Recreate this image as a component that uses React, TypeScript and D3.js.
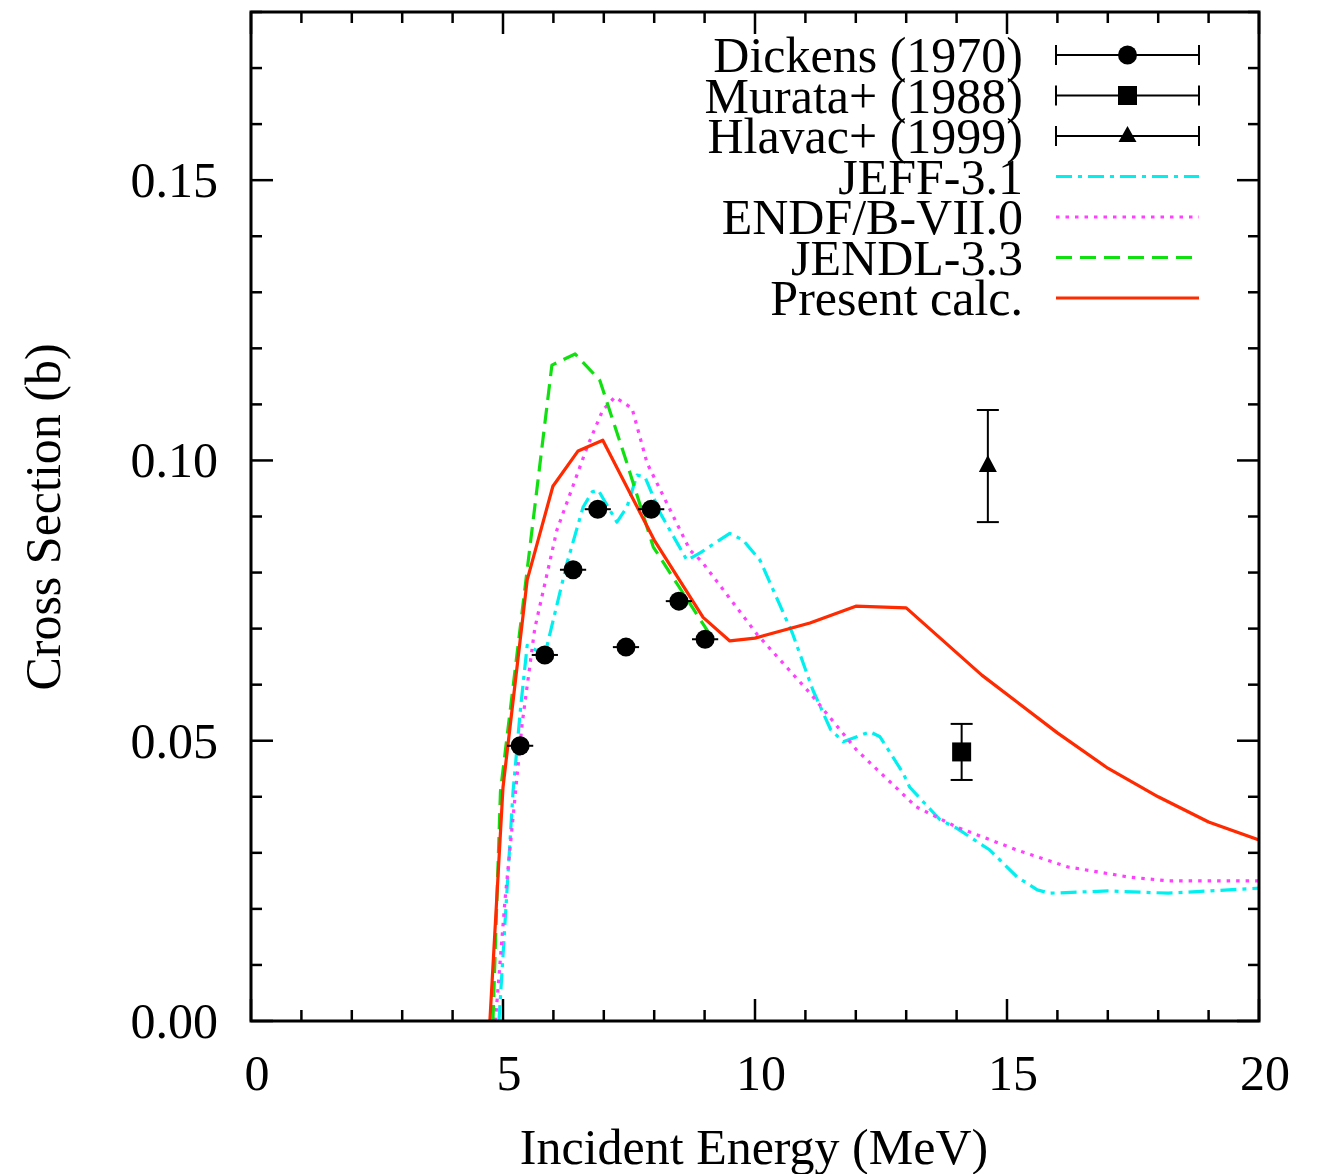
import React from "react";
import * as d3 from "d3";

// ---- data ----
const xTicksMajor = [0, 5, 10, 15, 20];
const yTicksMajor = [0, 0.05, 0.1, 0.15];
const yTickLabels = ["0.00", "0.05", "0.10", "0.15"];

const dickensE = [5.34, 5.83, 6.39, 6.88, 7.44, 7.94, 8.49, 9.01];
const dickensV = [0.0491, 0.0653, 0.0805, 0.0913, 0.0667, 0.0913, 0.0749, 0.0681];
const dickensXErr = [0.26, 0.26, 0.26, 0.26, 0.26, 0.26, 0.26, 0.26];

const murataE = [14.1];
const murataV = [0.048];
const murataErr = [0.005];

const hlavacE = [14.62];
const hlavacV = [0.099];
const hlavacErr = [0.01];

const jeffE = [4.92, 5.05, 5.2, 5.35, 5.48, 5.83, 6.27, 6.59, 6.77, 6.89, 7.26, 7.46, 7.66, 7.82, 8.12, 8.65, 8.91, 9.5, 9.76, 10.1, 10.75, 11.15, 11.5, 11.75, 12.28, 12.48, 12.94, 13.07, 13.67, 14.0, 14.66, 15.2, 15.6, 15.85, 17.0, 18.2, 20.0];
const jeffV = [0, 0.019, 0.041, 0.056, 0.067, 0.0653, 0.0817, 0.0917, 0.0944, 0.0947, 0.089, 0.0917, 0.0974, 0.097, 0.0906, 0.0822, 0.0835, 0.087, 0.0858, 0.0822, 0.069, 0.059, 0.052, 0.0498, 0.0516, 0.0507, 0.0442, 0.0417, 0.0359, 0.0344, 0.0305, 0.0257, 0.0234, 0.0228, 0.0232, 0.0228, 0.0237];

const endfE = [4.85, 5.04, 5.38, 5.63, 6.07, 6.67, 6.98, 7.22, 7.56, 7.86, 8.71, 8.95, 10.04, 11.09, 12.02, 13.2, 14.0, 15.2, 16.2, 17.4, 18.2, 20.0];
const endfV = [0, 0.0216, 0.053, 0.07, 0.0876, 0.1024, 0.109, 0.1113, 0.1093, 0.0995, 0.084, 0.0819, 0.069, 0.0585, 0.0483, 0.0382, 0.0346, 0.0305, 0.0275, 0.0257, 0.025, 0.025];

const jendlE = [4.8, 4.95, 5.5, 5.97, 6.43, 6.92, 7.46, 7.98, 9.1];
const jendlV = [0, 0.041, 0.082, 0.117, 0.119, 0.1143, 0.0995, 0.0846, 0.069];

const presentE = [4.74, 5.0, 5.48, 5.99, 6.49, 6.98, 8.0, 8.97, 9.5, 10.0, 11.09, 12.0, 13.0, 14.5, 16.0, 17.0, 18.0, 19.0, 20.0];
const presentV = [0, 0.0417, 0.0787, 0.0954, 0.1017, 0.1036, 0.0858, 0.072, 0.0678, 0.0683, 0.071, 0.074, 0.0737, 0.0617, 0.0514, 0.0451, 0.04, 0.0355, 0.0323];

const legendLabels = ["Dickens (1970)", "Murata+ (1988)", "Hlavac+ (1999)", "JEFF-3.1", "ENDF/B-VII.0", "JENDL-3.3", "Present calc."];

const FONT = "'Liberation Serif', 'Times New Roman', serif";

export default function App() {
  const L = 251, R = 1259, T = 12, B = 1021;
  const x = d3.scaleLinear().domain([0, 20]).range([L, R]);
  const y = d3.scaleLinear().domain([0, 0.18]).range([B, T]);
  const line = d3.line<[number, number]>().x(d => x(d[0])).y(d => y(d[1]));
  const mk = (E: number[], V: number[]) => line(E.map((e, i) => [e, V[i]] as [number, number])) || "";

  const xMinor = d3.range(0, 21, 1);
  const yMinor = d3.range(0, 0.1801, 0.01);

  const curves = [
    { d: mk(jeffE, jeffV), color: "#00f0f0", dash: "16,6,4,6" },
    { d: mk(endfE, endfV), color: "#ff40ff", dash: "3.5,6" },
    { d: mk(jendlE, jendlV), color: "#10e010", dash: "16,8" },
    { d: mk(presentE, presentV), color: "#ff2a00", dash: "" },
  ];

  const legY0 = 55, legDy = 40.5;
  const legX1 = 1056, legX2 = 1199, legXT = 1023;
  const FS = 50;

  return (
    <div style={{ position: "absolute", left: 0, top: 0 }}>
      <svg width={1320} height={1174} style={{ display: "block", background: "#fff" }}>
        <defs>
          <clipPath id="plot">
            <rect x={L} y={T} width={R - L} height={B - T} />
          </clipPath>
        </defs>
        {/* ticks */}
        <g stroke="#000" strokeWidth={2.5}>
          {xMinor.map(v => {
            const major = v % 5 === 0;
            const len = major ? 22 : 11;
            return (
              <g key={"xt" + v}>
                <line x1={x(v)} x2={x(v)} y1={B} y2={B - len} />
                <line x1={x(v)} x2={x(v)} y1={T} y2={T + len} />
              </g>
            );
          })}
          {yMinor.map((v, i) => {
            const major = i % 5 === 0;
            const len = major ? 22 : 11;
            return (
              <g key={"yt" + i}>
                <line x1={L} x2={L + len} y1={y(v)} y2={y(v)} />
                <line x1={R} x2={R - len} y1={y(v)} y2={y(v)} />
              </g>
            );
          })}
        </g>
        {/* curves */}
        <g clipPath="url(#plot)" fill="none" strokeWidth={3.2}>
          {curves.map((c, i) => (
            <path key={i} d={c.d} stroke={c.color} strokeDasharray={c.dash || undefined} strokeLinejoin="round" />
          ))}
        </g>
        {/* data points */}
        <g stroke="#000" strokeWidth={2}>
          {dickensE.map((e, i) => (
            <g key={"dk" + i}>
              <line x1={x(e - dickensXErr[i])} x2={x(e + dickensXErr[i])} y1={y(dickensV[i])} y2={y(dickensV[i])} />
              <circle cx={x(e)} cy={y(dickensV[i])} r={9.5} fill="#000" stroke="none" />
            </g>
          ))}
          {murataE.map((e, i) => (
            <g key={"mu" + i}>
              <line x1={x(e)} x2={x(e)} y1={y(murataV[i] - murataErr[i])} y2={y(murataV[i] + murataErr[i])} />
              <line x1={x(e) - 11} x2={x(e) + 11} y1={y(murataV[i] - murataErr[i])} y2={y(murataV[i] - murataErr[i])} />
              <line x1={x(e) - 11} x2={x(e) + 11} y1={y(murataV[i] + murataErr[i])} y2={y(murataV[i] + murataErr[i])} />
              <rect x={x(e) - 9.5} y={y(murataV[i]) - 9.5} width={19} height={19} fill="#000" stroke="none" />
            </g>
          ))}
          {hlavacE.map((e, i) => (
            <g key={"hl" + i}>
              <line x1={x(e)} x2={x(e)} y1={y(hlavacV[i] - hlavacErr[i])} y2={y(hlavacV[i] + hlavacErr[i])} />
              <line x1={x(e) - 11} x2={x(e) + 11} y1={y(hlavacV[i] - hlavacErr[i])} y2={y(hlavacV[i] - hlavacErr[i])} />
              <line x1={x(e) - 11} x2={x(e) + 11} y1={y(hlavacV[i] + hlavacErr[i])} y2={y(hlavacV[i] + hlavacErr[i])} />
              <path d={`M${x(e)},${y(hlavacV[i]) - 11} L${x(e) + 9},${y(hlavacV[i]) + 6} L${x(e) - 9},${y(hlavacV[i]) + 6} Z`} fill="#000" stroke="none" />
            </g>
          ))}
        </g>
        {/* frame */}
        <rect x={L} y={T} width={R - L} height={B - T} fill="none" stroke="#000" strokeWidth={3} />
        {/* tick labels */}
        <g fontFamily={FONT} fontSize={FS} fill="#000">
          {xTicksMajor.map(v => (
            <text key={"xl" + v} x={x(v) + 6} y={1090} textAnchor="middle">{v}</text>
          ))}
          {yTicksMajor.map((v, i) => (
            <text key={"yl" + v} x={218} y={y(v) + 17} textAnchor="end">{yTickLabels[i]}</text>
          ))}
          <text x={754} y={1164} textAnchor="middle">Incident Energy (MeV)</text>
          <text transform="translate(60,517) rotate(-90)" textAnchor="middle">Cross Section (b)</text>
        </g>
        {/* legend */}
        <g fontFamily={FONT} fontSize={FS} fill="#000">
          {legendLabels.map((lab, i) => (
            <text key={"lg" + i} x={legXT} y={legY0 + i * legDy + 17} textAnchor="end">{lab}</text>
          ))}
        </g>
        <g stroke="#000" strokeWidth={2}>
          {[0, 1, 2].map(i => {
            const cy = legY0 + i * legDy;
            return (
              <g key={"le" + i}>
                <line x1={legX1} x2={legX2} y1={cy} y2={cy} />
                <line x1={legX1} x2={legX1} y1={cy - 10} y2={cy + 10} />
                <line x1={legX2} x2={legX2} y1={cy - 10} y2={cy + 10} />
              </g>
            );
          })}
          <circle cx={(legX1 + legX2) / 2} cy={legY0} r={9.5} fill="#000" stroke="none" />
          <rect x={(legX1 + legX2) / 2 - 9.5} y={legY0 + legDy - 9.5} width={19} height={19} fill="#000" stroke="none" />
          <path d={`M${(legX1 + legX2) / 2},${legY0 + 2 * legDy - 10} l9,16 l-18,0 Z`} fill="#000" stroke="none" />
        </g>
        <g fill="none" strokeWidth={3.2}>
          {curves.map((c, i) => {
            const cy = legY0 + (i + 3) * legDy;
            return <line key={"ll" + i} x1={legX1} x2={legX2} y1={cy} y2={cy} stroke={c.color} strokeDasharray={c.dash || undefined} />;
          })}
        </g>
      </svg>
    </div>
  );
}
